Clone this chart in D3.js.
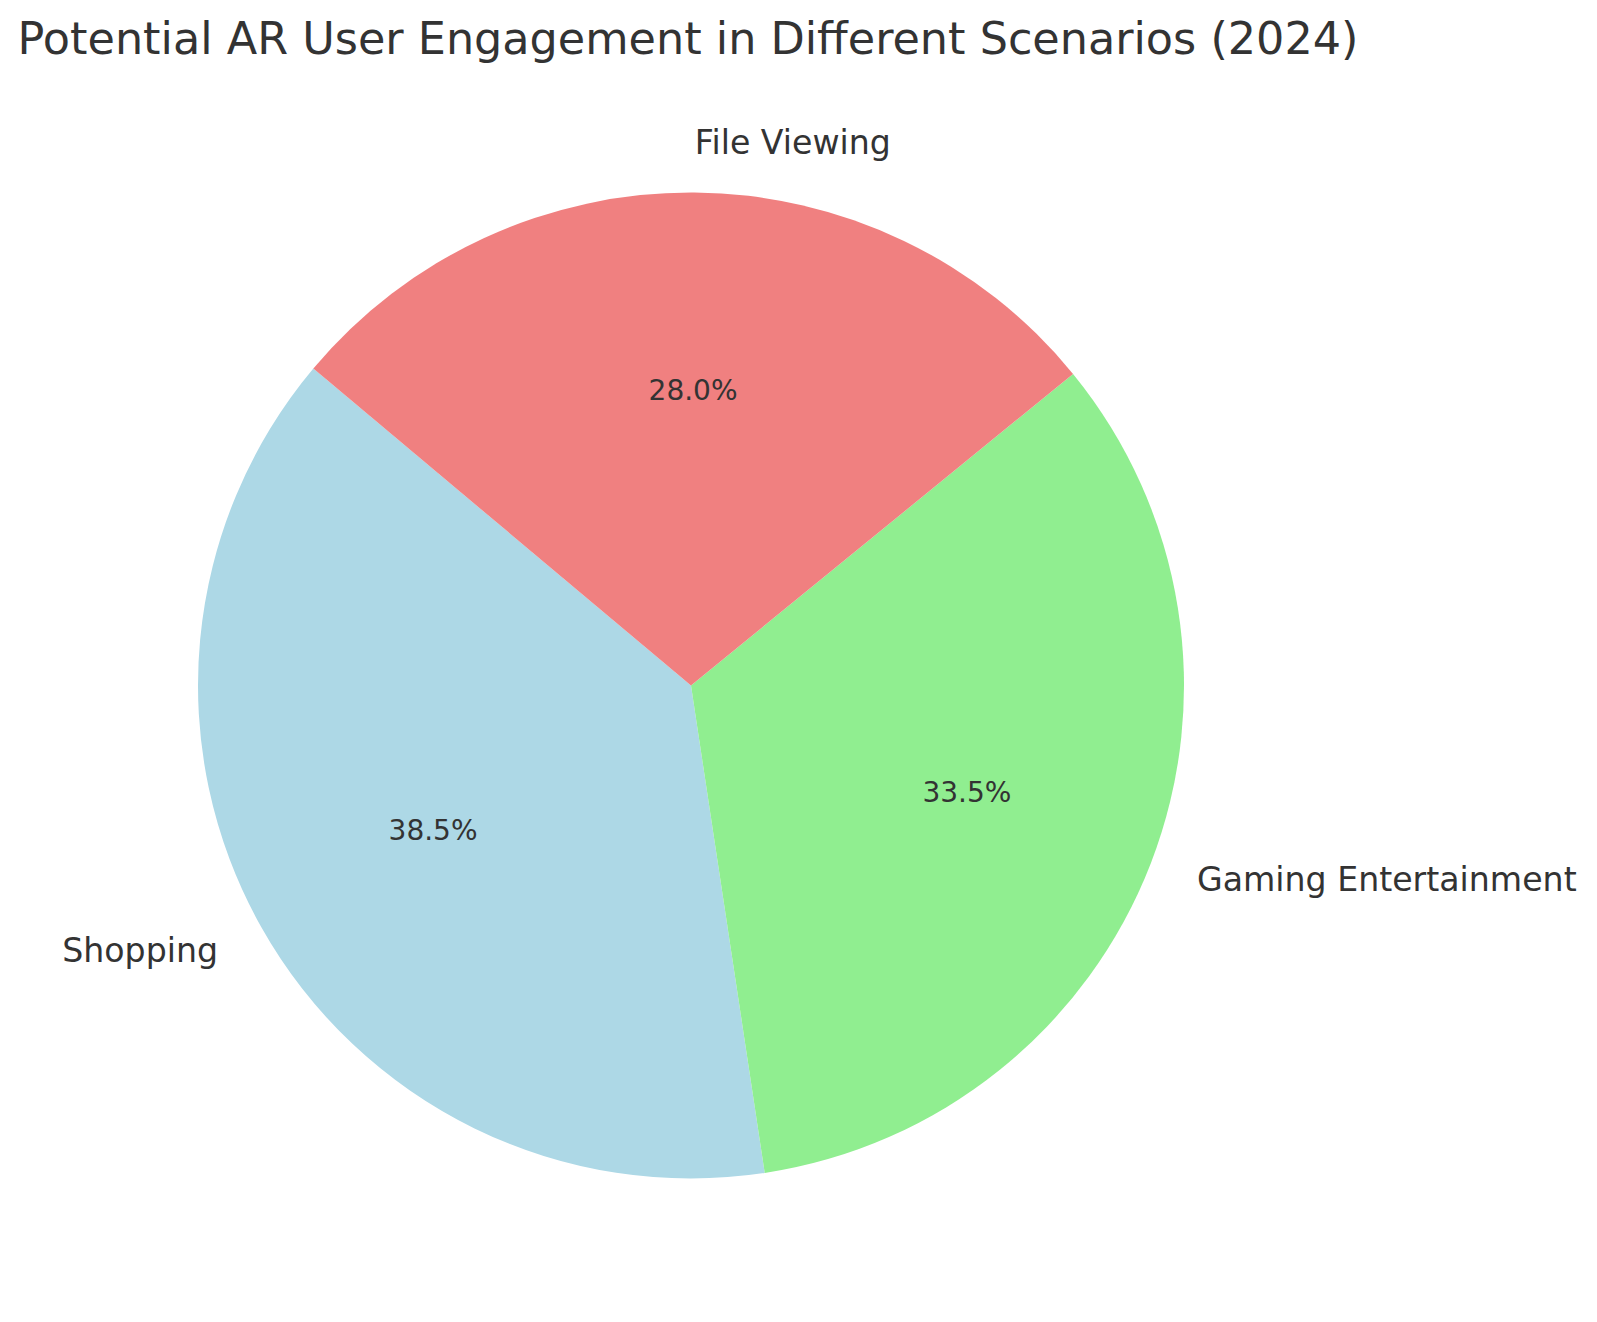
<!DOCTYPE html>
<html>
<head>
<meta charset="utf-8">
<script src="https://cdn.jsdelivr.net/npm/d3@7"></script>
<style>
  body { margin: 0; background: #fff; }
  text { font-family: "DejaVu Sans", sans-serif; fill: #333; }
</style>
</head>
<body>
<div id="chart"></div>
<script>
// data
var categories = ["Shopping", "Gaming Entertainment", "File Viewing"];
var shares = [38.5, 33.5, 28.0];
var colours = ["#ADD8E6", "#90EE90", "#F08080"];

var width = 1597, height = 1322;
var cx = 691, cy = 685.5, radius = 493;

var svg = d3.select("#chart")
  .append("svg")
  .attr("width", width)
  .attr("height", height);

// title centred over the pie
svg.append("text")
  .attr("x", 688)
  .attr("y", 54)
  .attr("text-anchor", "middle")
  .style("font-size", "44.5px")
  .text("Potential AR User Engagement in Different Scenarios (2024)");

// matplotlib startangle 140, counter-clockwise -> d3 angles
var start = (90 - 140) * Math.PI / 180;
var pie = d3.pie()
  .sort(null)
  .value(function(d) { return d; })
  .startAngle(start)
  .endAngle(start - 2 * Math.PI);

var arcs = pie(shares);
var arc = d3.arc().innerRadius(0).outerRadius(radius);

var g = svg.append("g").attr("transform", "translate(" + cx + "," + cy + ")");

g.selectAll(".slice")
  .data(arcs)
  .enter().append("path")
  .attr("class", "slice")
  .attr("d", arc)
  .style("fill", function(d, i) { return colours[i]; });

function mid(d) { return (d.startAngle + d.endAngle) / 2; }

// category labels at 1.1 r
g.selectAll(".lbl")
  .data(arcs)
  .enter().append("text")
  .attr("class", "lbl")
  .attr("x", function(d) { return 1.1 * radius * Math.sin(mid(d)); })
  .attr("y", function(d) { return -1.1 * radius * Math.cos(mid(d)); })
  .attr("dy", "0.32em")
  .attr("text-anchor", function(d) { return Math.sin(mid(d)) >= 0 ? "start" : "end"; })
  .style("font-size", "33.2px")
  .text(function(d, i) { return categories[i]; });

// percentages at 0.6 r
g.selectAll(".pct")
  .data(arcs)
  .enter().append("text")
  .attr("class", "pct")
  .attr("x", function(d) { return 0.6 * radius * Math.sin(mid(d)); })
  .attr("y", function(d) { return -0.6 * radius * Math.cos(mid(d)); })
  .attr("dy", "0.35em")
  .attr("text-anchor", "middle")
  .style("font-size", "28px")
  .text(function(d) { return d.value.toFixed(1) + "%"; });
</script>
</body>
</html>
